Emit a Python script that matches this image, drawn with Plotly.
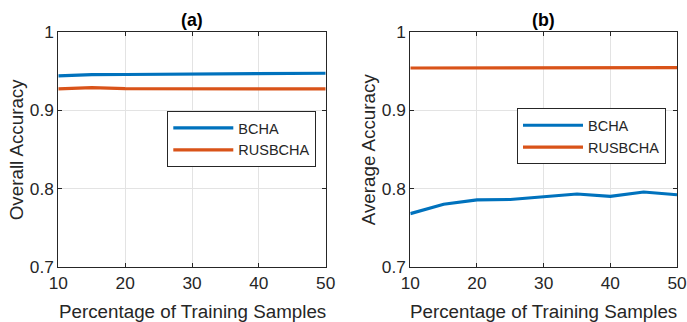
import plotly.graph_objects as go

x_pct = [10, 15, 20, 25, 30, 35, 40, 45, 50]
oa_bcha = [0.9435, 0.945, 0.9452, 0.9455, 0.9458, 0.946, 0.9463, 0.9466, 0.9468]
oa_rusbcha = [0.927, 0.9285, 0.9272, 0.9272, 0.927, 0.9263, 0.9272, 0.9263, 0.9268]
aa_bcha = [0.768, 0.780, 0.7855, 0.786, 0.7895, 0.793, 0.790, 0.7955, 0.792]
aa_rusbcha = [0.9535, 0.9535, 0.954, 0.954, 0.954, 0.954, 0.954, 0.9542, 0.954]
series_names = ["BCHA", "RUSBCHA"]
panel_titles = ["(a)", "(b)"]
y_titles = ["Overall Accuracy", "Average Accuracy"]
x_title = "Percentage of Training Samples"
x_ticks = [10, 20, 30, 40, 50]
y_ticks = [0.7, 0.8, 0.9, 1.0]
y_ticklabels = ["0.7", "0.8", "0.9", "1"]

BLUE = "#0072BD"
ORANGE = "#D95319"
AX = "#262626"
FONT = "Liberation Sans, Arial, sans-serif"
W, H = 687, 322

fig = go.Figure()
panels = [(oa_bcha, oa_rusbcha), (aa_bcha, aa_rusbcha)]
for i, (b, r) in enumerate(panels):
    xa = "x" if i == 0 else "x2"
    ya = "y" if i == 0 else "y2"
    lg = "legend" if i == 0 else "legend2"
    fig.add_trace(go.Scatter(x=x_pct, y=b, mode="lines", name=series_names[0],
                             line=dict(color=BLUE, width=3.2), xaxis=xa, yaxis=ya, legend=lg))
    fig.add_trace(go.Scatter(x=x_pct, y=r, mode="lines", name=series_names[1],
                             line=dict(color=ORANGE, width=3.2), xaxis=xa, yaxis=ya, legend=lg))

axis_common = dict(showline=True, linecolor=AX, linewidth=1, mirror="ticks",
                   ticks="inside", ticklen=4, tickcolor=AX, showgrid=True,
                   gridcolor="#e3e3e3", gridwidth=1, zeroline=False, automargin=False,
                   tickfont=dict(family=FONT, size=17.3, color=AX))
top_px, bot_px = 31.5, 267
ydom = [1 - bot_px / H, 1 - top_px / H]
xdoms_px = [(58.3, 325.7), (410.3, 677)]
xdoms = [[a / W, b / W] for a, b in xdoms_px]

layout = dict(
    width=W, height=H,
    margin=dict(l=0, r=0, t=0, b=0, autoexpand=False),
    paper_bgcolor="white", plot_bgcolor="white",
    font=dict(family=FONT, color=AX),
    showlegend=True,
    template="none",
)
for i in range(2):
    sx = "" if i == 0 else "2"
    layout["xaxis" + sx] = dict(axis_common, domain=xdoms[i], range=[10, 50],
                                tickvals=x_ticks, anchor="y" + sx)
    layout["yaxis" + sx] = dict(axis_common, domain=ydom, range=[0.7, 1.0],
                                tickvals=y_ticks, ticktext=y_ticklabels, anchor="x" + sx)

legend_common = dict(bgcolor="white", bordercolor=AX, borderwidth=1,
                     font=dict(family=FONT, size=14.5, color=AX),
                     xanchor="left", yanchor="top", itemwidth=60,
                     tracegroupgap=0)
layout["legend"] = dict(legend_common, x=167.3 / W, y=1 - 111 / H)
layout["legend2"] = dict(legend_common, x=517 / W, y=1 - 108.3 / H)

fig.update_layout(**layout)

y_title_x_px = [16, 368]
for i in range(2):
    cx = (xdoms[i][0] + xdoms[i][1]) / 2
    fig.add_annotation(text="<b>" + panel_titles[i] + "</b>", x=cx, y=1 - 20 / H,
                       xref="paper", yref="paper", showarrow=False,
                       xanchor="center", yanchor="middle",
                       font=dict(family=FONT, size=17.8, color="black"))
    fig.add_annotation(text=x_title, x=cx, y=1 - 311.5 / H,
                       xref="paper", yref="paper", showarrow=False,
                       xanchor="center", yanchor="middle",
                       font=dict(family=FONT, size=18.8, color=AX))
    fig.add_annotation(text=y_titles[i], x=y_title_x_px[i] / W, y=1 - ((top_px + bot_px) / 2) / H,
                       xref="paper", yref="paper", showarrow=False, textangle=-90,
                       xanchor="center", yanchor="middle",
                       font=dict(family=FONT, size=18.8, color=AX))

fig.write_html("out.html")
